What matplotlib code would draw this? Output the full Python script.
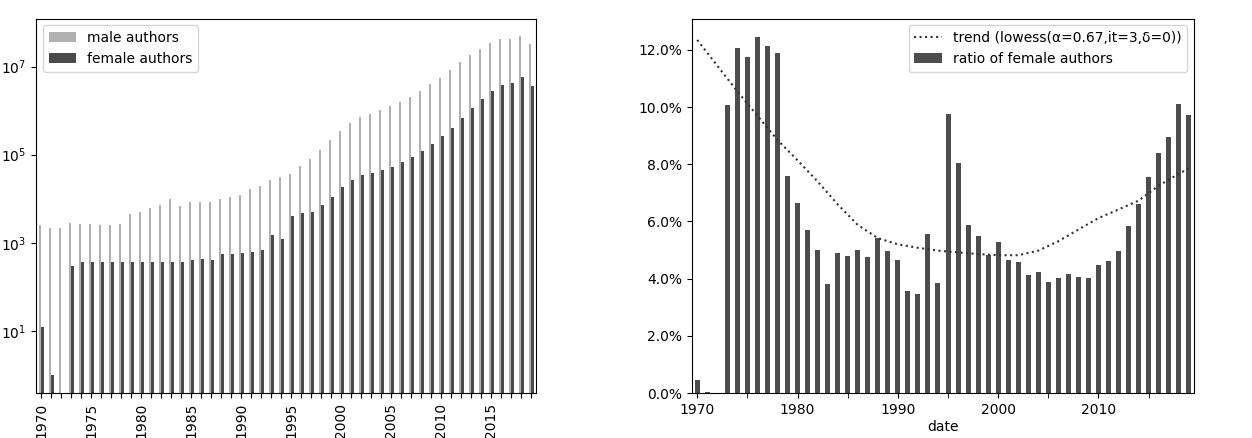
import numpy as np
import matplotlib
matplotlib.use("Agg")
import matplotlib.pyplot as plt
from matplotlib.ticker import FixedLocator, MultipleLocator, PercentFormatter, NullLocator

# yearly counts (log scale)
years = list(range(1970, 2020))
male = [2600, 2200, 2200, 2800, 2700, 2700, 2600, 2600, 2700, 4600,
        5100, 6200, 7200, 9800, 7000, 8500, 8500, 8500, 9800, 11000,
        12300, 17000, 19900, 26500, 31000, 37000, 54000, 81000, 125000, 211000,
        339000, 525000, 720000, 855000, 1040000, 1250000, 1580000, 2050000, 2850000, 4050000,
        5600000, 8400000, 12800000, 18700000, 25600000, 35000000, 42500000, 43000000, 50000000, 33000000]
female = [12, 1, 0, 305, 364, 364, 364, 364, 364, 364,
          364, 364, 364, 364, 364, 411, 433, 411, 553, 571,
          583, 615, 682, 1520, 1210, 3970, 4800, 5050, 7300, 10700,
          18700, 26600, 34600, 37600, 45700, 51500, 66800, 90000, 119000, 171000,
          270000, 404000, 683000, 1150000, 1850000, 2850000, 3900000, 4260000, 5700000, 3560000]

# ratio of female authors in percent (right panel)
ratio = [0.45, 0.05, 0.0, 10.07, 12.06, 11.77, 12.45, 12.15, 11.89, 7.59,
         6.65, 5.70, 5.00, 3.82, 4.89, 4.79, 5.00, 4.76, 5.42, 4.96,
         4.64, 3.56, 3.48, 5.55, 3.84, 9.77, 8.03, 5.87, 5.50, 4.82,
         5.29, 4.67, 4.58, 4.13, 4.24, 3.88, 4.02, 4.18, 4.05, 4.04,
         4.48, 4.61, 4.97, 5.84, 6.61, 7.57, 8.38, 8.96, 10.11, 9.73]

# lowess trend
trend_years = [1970, 1972, 1974, 1976, 1978, 1980, 1982, 1984, 1986, 1988, 1990, 1992, 1994,
               1996, 1998, 2000, 2002, 2004, 2006, 2008, 2010, 2012, 2014, 2016, 2018, 2019]
trend = [12.35, 11.45, 10.55, 9.7, 8.85, 8.14, 7.4, 6.6, 5.88, 5.42, 5.2, 5.08, 4.98,
         4.92, 4.86, 4.82, 4.82, 4.98, 5.31, 5.72, 6.12, 6.42, 6.73, 7.25, 7.67, 7.85]

plt.rcParams["font.size"] = 10

fig = plt.figure(figsize=(12.52, 4.38), dpi=100)
ax1 = fig.add_axes([0.0288, 0.1027, 0.3994, 0.855])
ax2 = fig.add_axes([0.5525, 0.1027, 0.4014, 0.855])

# left: counts per year, log scale
x = np.arange(len(years))
ax1.set_yscale("log")
ax1.bar(x - 0.125, male, width=0.25, color="#b0b0b0", label="male authors")
ax1.bar(x + 0.125, female, width=0.25, color="#4a4a4a", label="female authors")
ax1.set_xlim(-0.5, len(years) - 0.5)
ax1.set_ylim(0.39, 1.23e8)
ax1.yaxis.set_major_locator(FixedLocator([1e1, 1e3, 1e5, 1e7]))
ax1.yaxis.set_minor_locator(NullLocator())
ax1.set_xticks(x)
ax1.set_xticklabels([str(y) if y % 5 == 0 else "" for y in years], rotation=90)
ax1.legend(loc="upper left")

# right: ratio of female authors with trend
ax2.bar(years, ratio, width=0.5, color="#4d4d4d", label="ratio of female authors")
ax2.plot(trend_years, trend, ":", color="#333333", lw=1.5,
         label="trend (lowess(\u03b1=0.67,it=3,\u03b4=0))")
ax2.set_xlim(1969.45, 2019.55)
ax2.set_ylim(0, 13.1)
ax2.yaxis.set_major_locator(MultipleLocator(2))
ax2.yaxis.set_major_formatter(PercentFormatter(100, decimals=1))
ax2.xaxis.set_major_locator(MultipleLocator(10))
ax2.xaxis.set_minor_locator(MultipleLocator(5))
ax2.tick_params(axis="x", which="minor", length=3.5)
ax2.set_xlabel("date", labelpad=2)
ax2.legend(loc="upper right")

fig.savefig("out.png", dpi=100)
